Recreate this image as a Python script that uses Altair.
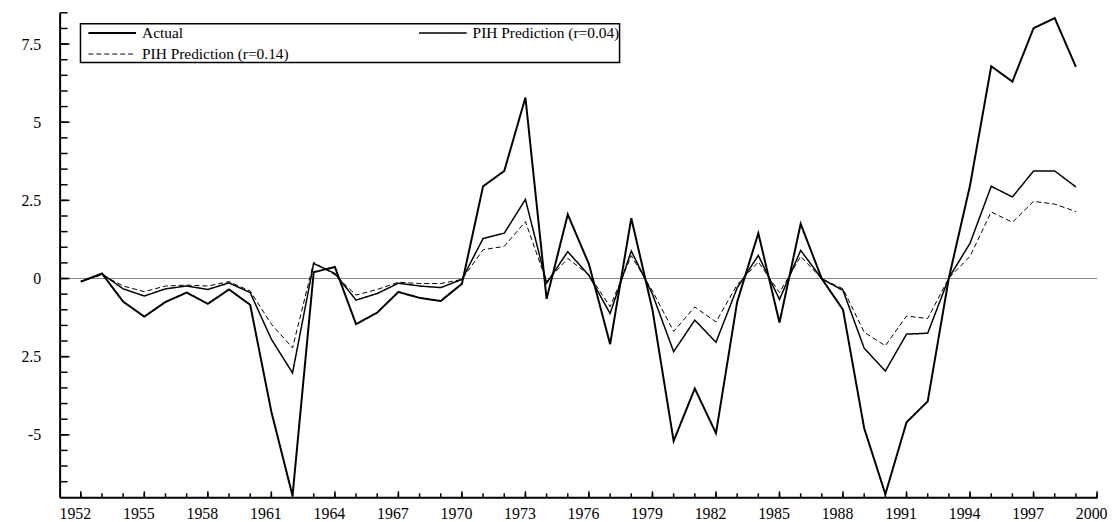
import altair as alt
import pandas as pd

# ---- data ----
years = list(range(1952, 2000))
actual = [-0.10, 0.16, -0.74, -1.22, -0.75, -0.45, -0.81, -0.35, -0.84, -4.26,
          -6.95, 0.20, 0.37, -1.46, -1.09, -0.43, -0.62, -0.72, -0.17, 2.95,
          3.44, 5.79, -0.65, 2.05, 0.46, -2.10, 1.93, -1.00, -5.20, -3.52,
          -4.95, -0.75, 1.45, -1.41, 1.75, -0.01, -1.00, -4.79, -6.90, -4.60,
          -3.93, 0.02, 2.98, 6.79, 6.30, 8.01, 8.33, 6.77]
pih_004 = [-0.10, 0.15, -0.33, -0.56, -0.33, -0.24, -0.35, -0.14, -0.45, -1.94,
           -3.02, 0.48, 0.16, -0.69, -0.48, -0.15, -0.24, -0.29, -0.03, 1.28,
           1.45, 2.53, -0.15, 0.86, 0.10, -1.12, 0.88, -0.50, -2.34, -1.33,
           -2.04, -0.30, 0.74, -0.67, 0.90, -0.01, -0.38, -2.23, -2.96, -1.78,
           -1.75, 0.02, 1.13, 2.95, 2.61, 3.44, 3.44, 2.93]
pih_014 = [-0.10, 0.12, -0.24, -0.42, -0.24, -0.21, -0.24, -0.10, -0.40, -1.46,
           -2.22, 0.52, 0.12, -0.53, -0.35, -0.12, -0.16, -0.16, -0.03, 0.92,
           1.03, 1.82, -0.10, 0.64, 0.12, -0.90, 0.73, -0.40, -1.69, -0.91,
           -1.39, -0.20, 0.53, -0.45, 0.71, -0.01, -0.33, -1.72, -2.15, -1.20,
           -1.28, 0.02, 0.71, 2.13, 1.80, 2.47, 2.38, 2.14]
series_names = ["Actual", "PIH Prediction (r=0.04)", "PIH Prediction (r=0.14)"]

x_major_ticks = [1952, 1955, 1958, 1961, 1964, 1967, 1970, 1973, 1976, 1979,
                 1982, 1985, 1988, 1991, 1994, 1997, 2000]
x_minor_ticks = list(range(1952, 2001))
y_major_ticks = [-5, -2.5, 0, 2.5, 5, 7.5]
y_minor_ticks = [-6.5, -6, -5.5, -5, -4.5, -4, -3.5, -3, -2.5, -2, -1.5, -1, -0.5,
                 0, 0.5, 1, 1.5, 2, 2.5, 3, 3.5, 4, 4.5, 5, 5.5, 6, 6.5, 7, 7.5, 8, 8.5]
zero_line = [0]

rows = []
for name, vals in zip(series_names, [actual, pih_004, pih_014]):
    for yr, v in zip(years, vals):
        rows.append({"year": yr, "value": v, "series": name})
df = pd.DataFrame(rows)

W, H = 1045, 488
FONT = "Liberation Serif"

xscale = alt.Scale(domain=[1951, 2000], nice=False, zero=False)
yscale = alt.Scale(domain=[-7, 8.5], nice=False, zero=False)

x_axis = alt.Axis(values=x_major_ticks, format="d", tickSize=0, title=None,
                  labelFont=FONT, labelFontSize=16, labelColor="black",
                  labelPadding=8, labelOffset=-6, labelFlush=False, labelOverlap=False,
                  domainColor="black", domainWidth=2, grid=False)
y_axis = alt.Axis(values=y_major_ticks, format=".1~f", tickSize=0, title=None,
                  labelFont=FONT, labelFontSize=16, labelColor="black",
                  labelPadding=19, labelFlush=False, labelOverlap=False,
                  labelExpr="datum.value == -2.5 ? '2.5' : (datum.value == -5 ? '-5' : datum.label)",
                  domainColor="black", domainWidth=2, grid=False)

legend = alt.Legend(
    orient="none", legendX=21, legendY=11, title=None, columns=2,
    direction="horizontal",
    symbolType="M-1,0H5", symbolSize=256, symbolOffset=7,
    labelFont=FONT, labelFontSize=15.5, labelColor="black", labelOffset=37,
    labelLimit=400, columnPadding=123, rowPadding=4, padding=0,
    strokeColor="black", fillColor="white",
)

lines = alt.Chart(df).mark_line(strokeJoin="miter").encode(
    x=alt.X("year:Q", scale=xscale, axis=x_axis),
    y=alt.Y("value:Q", scale=yscale, axis=y_axis),
    color=alt.Color("series:N", scale=alt.Scale(domain=series_names,
                                                range=["black", "black", "black"]),
                    legend=legend),
    strokeDash=alt.StrokeDash("series:N", scale=alt.Scale(domain=series_names,
                                                          range=[[1, 0], [1, 0], [5, 3]]),
                              legend=legend),
    strokeWidth=alt.StrokeWidth("series:N", scale=alt.Scale(domain=series_names,
                                                            range=[2, 1, 1]),
                                legend=legend),
    order=alt.Order("year:Q"),
)

zero = alt.Chart(pd.DataFrame({"z": zero_line})).mark_rule(
    color="#888888", strokeWidth=1
).encode(y=alt.Y("z:Q", scale=yscale, axis=y_axis))

x_major = alt.Chart(pd.DataFrame({"t": x_major_ticks})).mark_rule(
    color="black", strokeWidth=1.5
).encode(x=alt.X("t:Q", scale=xscale, axis=x_axis), y=alt.value(H), y2=alt.value(H - 6))

x_minor = alt.Chart(pd.DataFrame({"t": x_minor_ticks})).mark_rule(
    color="black", strokeWidth=1.5
).encode(x=alt.X("t:Q", scale=xscale, axis=x_axis), y=alt.value(H), y2=alt.value(H - 4))

y_major = alt.Chart(pd.DataFrame({"t": y_major_ticks})).mark_rule(
    color="black", strokeWidth=1.5
).encode(y=alt.Y("t:Q", scale=yscale, axis=y_axis), x=alt.value(0), x2=alt.value(10))

y_minor = alt.Chart(pd.DataFrame({"t": y_minor_ticks})).mark_rule(
    color="black", strokeWidth=1.5
).encode(y=alt.Y("t:Q", scale=yscale, axis=y_axis), x=alt.value(0), x2=alt.value(8))

chart = alt.layer(zero, lines, x_major, x_minor, y_major, y_minor).properties(
    width=W, height=H,
    autosize=alt.AutoSizeParams(type="none"),
    padding={"left": 52, "top": 3, "right": 12, "bottom": 23},
    background="white",
).configure_view(stroke=None).configure_legend(strokeWidth=1.5)

chart.save("out.html", embed_options={"renderer": "svg", "actions": False})
